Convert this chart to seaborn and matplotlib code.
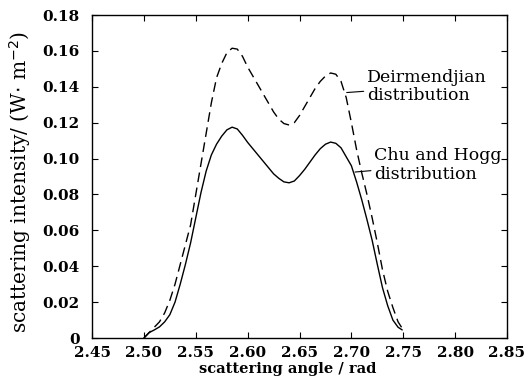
import numpy as np
import pandas as pd
import matplotlib
matplotlib.use("Agg")
import matplotlib.pyplot as plt
import seaborn as sns

# Deirmendjian distribution (dashed)
deir_angle = [2.500, 2.505, 2.510, 2.515, 2.520, 2.525, 2.530, 2.535, 2.540, 2.545,
              2.550, 2.555, 2.560, 2.565, 2.570, 2.575, 2.580, 2.585, 2.590, 2.595,
              2.600, 2.605, 2.610, 2.615, 2.620, 2.625, 2.630, 2.635, 2.640, 2.645,
              2.650, 2.655, 2.660, 2.665, 2.670, 2.675, 2.680, 2.685, 2.690, 2.695,
              2.700, 2.705, 2.710, 2.715, 2.720, 2.725, 2.730, 2.735, 2.740, 2.745,
              2.750]
deir_int = [0.000, 0.003, 0.006, 0.009, 0.014, 0.021, 0.030, 0.041, 0.052, 0.063,
            0.080, 0.097, 0.114, 0.131, 0.145, 0.153, 0.159, 0.1615, 0.1610, 0.157,
            0.151, 0.146, 0.141, 0.136, 0.131, 0.126, 0.122, 0.1195, 0.1187, 0.120,
            0.124, 0.129, 0.134, 0.139, 0.143, 0.146, 0.1477, 0.147, 0.143, 0.134,
            0.120, 0.105, 0.092, 0.080, 0.067, 0.053, 0.038, 0.026, 0.017, 0.009,
            0.0045]

# Chu and Hogg distribution (solid)
chu_angle = [2.500, 2.505, 2.510, 2.515, 2.520, 2.525, 2.530, 2.535, 2.540, 2.545,
             2.550, 2.555, 2.560, 2.565, 2.570, 2.575, 2.580, 2.585, 2.590, 2.595,
             2.600, 2.605, 2.610, 2.615, 2.620, 2.625, 2.630, 2.635, 2.640, 2.645,
             2.650, 2.655, 2.660, 2.665, 2.670, 2.675, 2.680, 2.685, 2.690, 2.695,
             2.700, 2.705, 2.710, 2.715, 2.720, 2.725, 2.730, 2.735, 2.740, 2.745,
             2.749]
chu_int = [0.000, 0.003, 0.0045, 0.0062, 0.009, 0.013, 0.020, 0.030, 0.041, 0.053,
           0.067, 0.081, 0.093, 0.102, 0.108, 0.1125, 0.1160, 0.1175, 0.1165, 0.1130,
           0.1090, 0.1055, 0.1020, 0.0985, 0.0950, 0.0915, 0.0890, 0.0870, 0.0865, 0.0875,
           0.0905, 0.0940, 0.0980, 0.1020, 0.1055, 0.1080, 0.1092, 0.1085, 0.1060, 0.1010,
           0.0960, 0.0870, 0.0770, 0.0660, 0.0545, 0.0410, 0.0280, 0.0180, 0.0100, 0.0060,
           0.0045]

x_ticks = [2.45, 2.50, 2.55, 2.60, 2.65, 2.70, 2.75, 2.80, 2.85]
y_ticks = [0, 0.02, 0.04, 0.06, 0.08, 0.10, 0.12, 0.14, 0.16, 0.18]

sns.set_theme(style="ticks")
plt.rcParams['font.family'] = ['DejaVu Serif']
plt.rcParams['xtick.direction'] = 'in'
plt.rcParams['ytick.direction'] = 'in'
plt.rcParams['text.color'] = 'black'
plt.rcParams['axes.labelcolor'] = 'black'
plt.rcParams['xtick.color'] = 'black'
plt.rcParams['ytick.color'] = 'black'

fig = plt.figure(figsize=(5.32, 3.90), dpi=100)
ax = fig.add_axes([0.173, 0.1333, 0.780, 0.8282])

sns.lineplot(x=deir_angle, y=deir_int, ax=ax, color='black', linewidth=1.0,
             linestyle=(0, (7, 4)), sort=False)
sns.lineplot(x=chu_angle, y=chu_int, ax=ax, color='black', linewidth=1.0, sort=False)

ax.set_xlim(2.45, 2.85)
ax.set_ylim(0, 0.18)
ax.set_xticks(x_ticks)
ax.set_yticks(y_ticks)
ax.set_xticklabels([f"{t:.2f}" for t in x_ticks], fontsize=11, fontweight='bold')
ax.set_yticklabels(["0"] + [f"{t:.2f}" for t in y_ticks[1:]], fontsize=11, fontweight='bold')
ax.tick_params(top=True, right=True, length=4, width=0.8, color='black')
ax.tick_params(axis='x', pad=6)
ax.tick_params(axis='y', pad=9)
for s in ax.spines.values():
    s.set_color('black')
    s.set_linewidth(1.0)

ax.set_xlabel("scattering angle / rad", fontsize=10.5, fontweight='bold')
ax.xaxis.set_label_coords(0.472, -0.074)
ax.set_ylabel("scattering intensity/ (W$\\cdot$ m$^{-2}$)", fontsize=14.5)
ax.yaxis.set_label_coords(-0.142, 0.483)

ax.annotate("Deirmendjian\ndistribution", xy=(2.6955, 0.1368), xytext=(2.715, 0.1400),
            fontsize=12.5, va='center', ha='left', linespacing=1.1,
            arrowprops=dict(arrowstyle='-', color='black', lw=0.8, shrinkA=0, shrinkB=0))
ax.annotate("Chu and Hogg\ndistribution", xy=(2.7035, 0.0925), xytext=(2.722, 0.0965),
            fontsize=12.5, va='center', ha='left', linespacing=1.1,
            arrowprops=dict(arrowstyle='-', color='black', lw=0.8, shrinkA=0, shrinkB=0))

fig.savefig("out.png", dpi=100)
